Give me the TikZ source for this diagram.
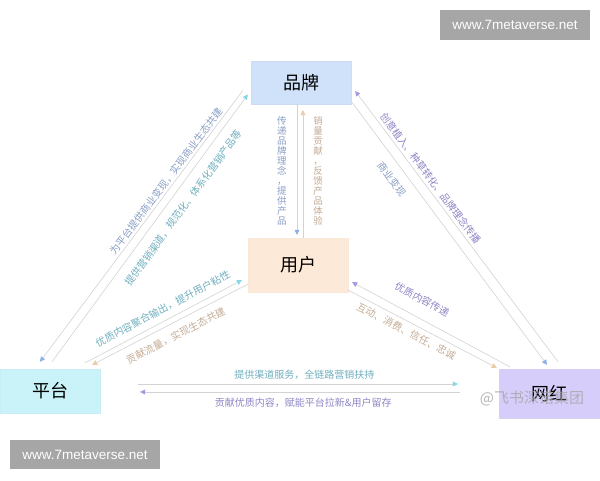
\documentclass[tikz,border=0pt]{standalone}
\usepackage{fontspec}
\setmainfont{Noto Sans CJK SC}
\newfontfamily\wmfont{Liberation Sans}
\usepackage{tikz}
\usetikzlibrary{arrows.meta}

\begin{document}
\begin{tikzpicture}
			[x=1pt,y=-1pt,line cap=round,
			%Styles
			main node/.style={rectangle,draw=#1tip!45,fill=#1fill,minimum width=100pt,minimum height=44pt,inner sep=0pt,font=\fontsize{18}{18}\selectfont},
			link/.style={draw=linegray,line width=0.6pt,-{Triangle[length=5pt,width=5pt,color=#1tip]}},
			info/.style={text=#1text,inner sep=1pt,font=\fontsize{10}{10}\selectfont},
			stack/.style={text=#1text,inner sep=1pt,align=center,font=\fontsize{9.5}{10}\selectfont},
			wm/.style={fill=wmgray,text=white,minimum width=150pt,minimum height=29pt,inner sep=0pt,font=\wmfont\fontsize{13.5}{13.5}\selectfont}
			]
			
			%Colors
			\definecolor{brandfill}{HTML}{CFE2FA}
			\definecolor{userfill}{HTML}{FDE9D7}
			\definecolor{platfill}{HTML}{C9F3F8}
			\definecolor{wangfill}{HTML}{D6CDFB}
			\definecolor{brandtip}{HTML}{8FB0E6}
			\definecolor{usertip}{HTML}{EDCBA6}
			\definecolor{plattip}{HTML}{86D8E6}
			\definecolor{wangtip}{HTML}{A498E4}
			\definecolor{brandtext}{HTML}{8A9EC6}
			\definecolor{usertext}{HTML}{C4AC96}
			\definecolor{plattext}{HTML}{6FAFBF}
			\definecolor{wangtext}{HTML}{8D86C6}
			\definecolor{linegray}{HTML}{D3D3D3}
			\definecolor{wmgray}{HTML}{A6A6A6}
			
			\fill[white] (0,0) rectangle (600,480);
			\useasboundingbox (0,0) rectangle (600,480);
			
			%The graphic
			\node[main node=brand,minimum height=43pt] (brand) at (301,82.5) {品牌};
			\node[main node=user,minimum height=54pt] (user) at (298,265) {用户};
			\node[main node=plat] (plat) at (50,391) {平台};
			\node[main node=wang,minimum width=101pt,minimum height=49pt] (wang) at (549.5,393.5) {网红};
			
			%brand - user
			\draw[link=brand,shorten >=3pt] ([xshift=-4]brand.south) -- node[stack=brand,left=9pt] {传\\递\\品\\牌\\理\\念\\，\\提\\供\\产\\品} ([xshift=-1]user.north);
			\draw[link=user,shorten >=6pt] ([xshift=5]user.north) -- node[stack=user,right=9pt] {销\\量\\贡\\献\\，\\反\\馈\\产\\品\\体\\验} ([xshift=2]brand.south);
			
			%brand - platform
			\draw[link=brand] ([xshift=-8,yshift=-8]brand.west) -- node[info=brand,sloped,above=1pt,pos=0.35] {为平台提供商业变现，实现商业生态共建} ([xshift=-10,yshift=7]plat.north);
			\draw[link=plat] ([xshift=2,yshift=7]plat.north) -- node[info=plat,sloped,below=9pt,pos=0.61] {提供营销渠道，规范化、体系化营销产品等} ([xshift=-3,yshift=-12]brand.west);
			
			%brand - influencer
			\draw[link=brand] ([xshift=1,yshift=-20]brand.east) -- node[info=brand,sloped,below=8pt,pos=0.26] {商业变现} ([xshift=-2.5,yshift=4]wang.north);
			\draw[link=wang] ([xshift=8.5,yshift=7]wang.north) -- node[info=wang,sloped,above=2pt,pos=0.66] {创意植入、种草转化、品牌理念传播} ([xshift=4,yshift=-8.5]brand.east);
			
			%user - platform
			\draw[link=plat] ([xshift=-15,yshift=6]plat.north east) -- node[info=plat,sloped,above=5.5pt,pos=0.53] {优质内容聚合输出，提升用户粘性} ([xshift=-6,yshift=12]user.south west);
			\draw[link=user] ([yshift=8]user.south west) -- node[info=user,sloped,below=6.5pt,pos=0.5] {贡献流量，实现生态共建} ([xshift=-8,yshift=4]plat.north east);
			
			%user - influencer
			\draw[link=wang] ([xshift=11,yshift=2]wang.north west) -- node[info=wang,sloped,above=12pt,pos=0.61] {优质内容传递} ([xshift=4,yshift=10]user.south east);
			\draw[link=user] ([yshift=2]user.south east) -- node[info=user,sloped,below=3.5pt,pos=0.42] {互动、消费、信任、忠诚} ([xshift=-2,yshift=1]wang.north west);
			
			%platform - influencer
			\draw[link=plat] ([xshift=38,yshift=7]plat.east) -- node[info=plat,above=3pt,pos=0.52] {提供渠道服务，全链路营销扶持} ([xshift=-41,yshift=9.5]wang.west);
			\draw[link=wang] ([xshift=-39,yshift=1.5]wang.west) -- node[info=wang,below=5pt,pos=0.49] {贡献优质内容，赋能平台拉新\&用户留存} ([xshift=40,yshift=-1]plat.east);
			
			%Watermarks
			\node[wm,minimum height=30pt] (wmtop) at (515,25) {www.7metaverse.net};
			\node[wm] (wmbot) at (85,454.5) {www.7metaverse.net};
			\node[text=black!35,opacity=0.8,inner sep=0pt,font=\fontsize{15}{15}\selectfont] (wmlogo) at (532,398) {@飞书深诺集团};
		\end{tikzpicture}
\end{document}
